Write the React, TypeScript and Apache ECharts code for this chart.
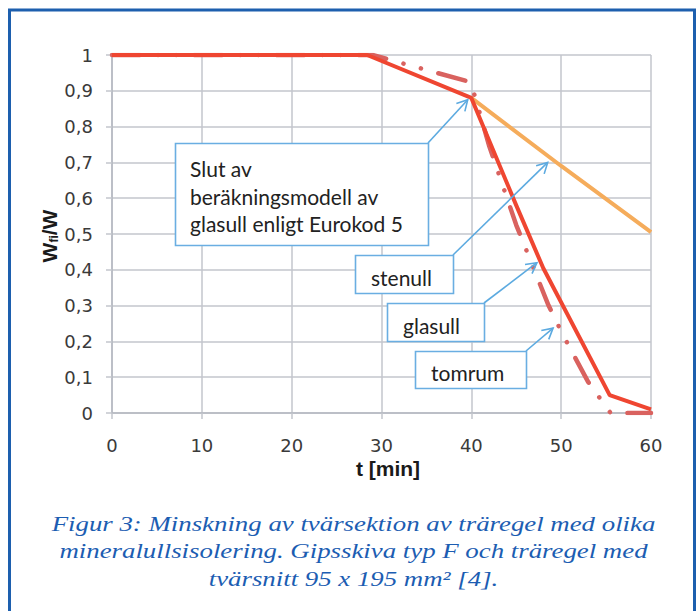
import React, { useEffect, useRef } from "react";
import * as echarts from "echarts";

// ---- data ----
const xTickLabels = ["0", "10", "20", "30", "40", "50", "60"];
const yTickLabels = ["0", "0,1", "0,2", "0,3", "0,4", "0,5", "0,6", "0,7", "0,8", "0,9", "1"];

const glasullT = [0, 28.4, 40, 45, 48, 55.4, 60];
const glasullW = [1, 1, 0.88, 0.58, 0.405, 0.05, 0.01];

const stenullT = [40, 50, 60];
const stenullW = [0.88, 0.69, 0.505];

const tomrumT = [0, 29, 39.8, 40.4, 42, 45, 48.6, 50.2, 53, 55.5, 60];
const tomrumW = [1, 1, 0.925, 0.885, 0.745, 0.525, 0.3, 0.218, 0.087, 0, 0];

const seriesNames = ["tomrum", "stenull", "glasull"];

const noteTexts = [
  "Slut av\nberäkningsmodell av\nglasull enligt Eurokod 5",
  "stenull",
  "glasull",
  "tomrum",
];
// arrow tips in data coordinates [t, W]
const noteTipT = [39.6, 48.5, 47.3, 49.1];
const noteTipW = [0.875, 0.7, 0.42, 0.237];

const xAxisTitle = "t [min]";
const captionLines = [
  "Figur 3: Minskning av tvärsektion av träregel med olika",
  "mineralullsisolering. Gipsskiva typ F och träregel med",
  "tvärsnitt 95 x 195 mm² [4].",
];

// ---- layout (pixels) ----
const noteBoxes = [
  [175, 143, 253, 102],
  [355, 255, 98, 38],
  [387, 303, 97, 38],
  [415, 351, 111, 37],
];

const zip = (a: number[], b: number[]) => a.map((v, i) => [v, b[i]]);

function arrow(x1: number, y1: number, x2: number, y2: number, color: string) {
  const a = Math.atan2(y2 - y1, x2 - x1);
  const L = 12;
  const sp = 0.5;
  return [
    {
      type: "line",
      z: 100,
      shape: { x1, y1, x2, y2 },
      style: { stroke: color, lineWidth: 1.6 },
    },
    {
      type: "polyline",
      z: 100,
      shape: {
        points: [
          [x2 - L * Math.cos(a - sp), y2 - L * Math.sin(a - sp)],
          [x2, y2],
          [x2 - L * Math.cos(a + sp), y2 - L * Math.sin(a + sp)],
        ],
      },
      style: { stroke: color, lineWidth: 1.6, fill: "none" },
    },
  ];
}

export default function App() {
  const ref = useRef<HTMLDivElement>(null);

  useEffect(() => {
    if (!ref.current) return;
    const chart = echarts.init(ref.current, null, { renderer: "svg" });
    const gridColor = "#c3c6cc";
    const tickFont = "DejaVu Sans";
    const titleFont = "Liberation Sans";

    chart.setOption({
      animation: false,
      backgroundColor: "#ffffff",
      grid: { left: 112, top: 55, width: 539, height: 358, containLabel: false },
      xAxis: {
        type: "value",
        min: 0,
        max: 60,
        interval: 10,
        axisLine: { show: true, lineStyle: { color: "#b5b8c0", width: 1.5 } },
        axisTick: { show: true, length: 6, lineStyle: { color: gridColor, width: 1.5 } },
        splitLine: { show: true, lineStyle: { color: gridColor, width: 1.5 } },
        axisLabel: {
          margin: 23,
          fontSize: 18,
          fontFamily: tickFont,
          color: "#3a3a3a",
          formatter: (v: number) => xTickLabels[Math.round(v / 10)],
        },
      },
      yAxis: {
        type: "value",
        min: 0,
        max: 1,
        interval: 0.1,
        axisLine: { show: true, lineStyle: { color: "#b5b8c0", width: 1.5 } },
        axisTick: { show: true, length: 6, lineStyle: { color: gridColor, width: 1.5 } },
        splitLine: { show: true, lineStyle: { color: gridColor, width: 1.5 } },
        axisLabel: {
          margin: 19,
          fontSize: 18,
          fontFamily: tickFont,
          color: "#3a3a3a",
          formatter: (v: number) => yTickLabels[Math.round(v * 10)],
        },
      },
      series: [
        {
          name: seriesNames[0],
          type: "line",
          data: zip(tomrumT, tomrumW),
          showSymbol: false,
          symbol: "none",
          lineStyle: {
            color: "#d9625f",
            width: 4.5,
            type: [28, 18, 0.1, 18, 0.1, 18],
            cap: "round",
            join: "round",
          },
        },
        {
          name: seriesNames[1],
          type: "line",
          data: zip(stenullT, stenullW),
          showSymbol: false,
          symbol: "none",
          lineStyle: { color: "#f5ac5b", width: 4 },
        },
        {
          name: seriesNames[2],
          type: "line",
          data: zip(glasullT, glasullW),
          showSymbol: false,
          symbol: "none",
          lineStyle: { color: "#ef4631", width: 4, join: "round" },
        },
      ],
    });

    const boxStroke = "#6aaee2";
    const arrowColor = "#5caae0";
    const noteFont = "Lato";
    const elements: any[] = [];

    noteBoxes.forEach((b, i) => {
      const [bx, by, bw, bh] = b;
      const tip = chart.convertToPixel({ gridIndex: 0 }, [noteTipT[i], noteTipW[i]]) as number[];
      elements.push(...arrow(bx + bw, by, tip[0], tip[1], arrowColor));
      elements.push({
        type: "rect",
        z: 100,
        shape: { x: bx + 0.5, y: by + 0.5, width: bw, height: bh },
        style: { fill: "#ffffff", stroke: boxStroke, lineWidth: 1.6 },
      });
      if (i === 0) {
        elements.push({
          type: "text",
          z: 101,
          x: bx + 15,
          y: by + 12,
          style: {
            text: noteTexts[i],
            fontFamily: noteFont,
            fontSize: 21,
            lineHeight: 27.5,
            fill: "#222222",
            align: "left",
            verticalAlign: "top",
          },
        });
      } else {
        elements.push({
          type: "text",
          z: 101,
          x: bx + 16,
          y: by + bh / 2 + 3,
          style: {
            text: noteTexts[i],
            fontFamily: noteFont,
            fontSize: 21,
            fill: "#222222",
            align: "left",
            verticalAlign: "middle",
          },
        });
      }
    });

    // axis titles
    elements.push({
      type: "text",
      z: 101,
      x: 388,
      y: 468,
      style: {
        text: xAxisTitle,
        fontFamily: titleFont,
        fontWeight: "bold",
        fontSize: 21,
        fill: "#1a1a1a",
        align: "center",
        verticalAlign: "middle",
      },
    });
    elements.push({
      type: "text",
      z: 101,
      x: 48,
      y: 236,
      rotation: Math.PI / 2,
      style: {
        text: "{w|W}{s|fi}{w|/W}",
        align: "center",
        verticalAlign: "middle",
        fill: "#1a1a1a",
        rich: {
          w: {
            fontFamily: titleFont,
            fontWeight: "bold",
            fontSize: 21,
            lineHeight: 23,
            verticalAlign: "bottom",
            fill: "#1a1a1a",
          },
          s: {
            fontFamily: titleFont,
            fontWeight: "bold",
            fontSize: 12,
            lineHeight: 12,
            verticalAlign: "bottom",
            fill: "#1a1a1a",
          },
        },
      },
    });

    // caption
    captionLines.forEach((line, i) => {
      elements.push({
        type: "text",
        z: 101,
        x: 353.5,
        y: 523 + i * 27.5,
        scaleX: 1.22,
        style: {
          text: line,
          fontFamily: "Liberation Serif",
          fontStyle: "italic",
          fontSize: 22,
          fill: "#1c5db2",
          align: "center",
          verticalAlign: "middle",
        },
      });
    });

    // frame
    elements.push({
      type: "rect",
      z: 102,
      shape: { x: 9.5, y: 10, width: 685, height: 700 },
      style: { fill: "none", stroke: "#1d5fae", lineWidth: 3 },
    });

    chart.setOption({ graphic: elements });

    return () => chart.dispose();
  }, []);

  return (
    <div
      ref={ref}
      style={{ position: "fixed", left: 0, top: 0, width: 700, height: 611, background: "#fff" }}
    />
  );
}
